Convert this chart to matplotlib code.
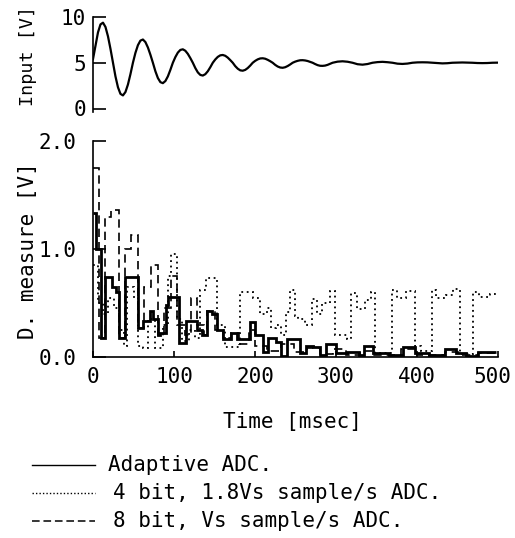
import numpy as np
import matplotlib
matplotlib.use("Agg")
import matplotlib.pyplot as plt
from matplotlib.lines import Line2D
from matplotlib.transforms import ScaledTranslation

plt.rcParams['font.family'] = ['DejaVu Sans Mono', 'DejaVu Sans']
FS = 15
TFS = 15

# ---------------- data ----------------
# input signal, sampled every ~3.08 ms (first 296 ms), then every ~6.16 ms
input_k = np.r_[np.arange(0, 97), np.arange(98, 163, 2)]
input_t = input_k * 3.081
input_v = [5.4, 6.86, 8.32, 9.19, 9.38, 8.91, 7.89, 6.52, 5.00, 3.51, 2.32, 1.60, 1.43, 1.80, 2.62, 3.75,
           5.00, 6.08, 6.92, 7.42, 7.54, 7.26, 6.67, 5.88, 5.00, 4.07, 3.33, 2.88, 2.77, 3.00, 3.51, 4.22,
           5.00, 5.62, 6.11, 6.40, 6.47, 6.31, 5.97, 5.51, 5.00, 4.42, 3.95, 3.67, 3.60, 3.75, 4.07, 4.51,
           5.00, 5.36, 5.64, 5.81, 5.85, 5.76, 5.56, 5.29, 5.00, 4.63, 4.35, 4.17, 4.13, 4.22, 4.42, 4.69,
           5.00, 5.21, 5.37, 5.47, 5.49, 5.44, 5.32, 5.17, 5.00, 4.77, 4.59, 4.48, 4.45, 4.51, 4.64, 4.81,
           5.00, 5.12, 5.21, 5.27, 5.28, 5.25, 5.19, 5.10, 5.00, 4.86, 4.74, 4.67, 4.66, 4.69, 4.77, 4.88,
           5.00,
           5.12, 5.16, 5.11, 5.00, 4.84, 4.79, 4.86, 5.00, 5.07, 5.10, 5.06, 5.00, 4.90, 4.87, 4.91, 5.00,
           5.04, 5.05, 5.04, 5.00, 4.95, 4.93, 4.95, 5.00, 5.02, 5.03, 5.02, 5.00, 4.97, 4.96, 4.97, 5.00,
           5.01]

# Adaptive ADC (solid): segment start times [ms] and levels [V]
adaptive_t = [0, 4, 10, 15, 23, 28, 32, 40, 56, 62, 70, 74, 80, 83, 90, 93, 106, 115, 128, 134,
              141, 147, 153, 161, 170, 178, 194, 200, 210, 216, 226, 232, 240, 255, 263, 272, 280,
              288, 300, 313, 329, 334, 346, 365, 383, 398, 415, 434, 448, 461, 475, 498]
adaptive_v = [1.33, 1.00, 0.18, 0.74, 0.65, 0.60, 0.18, 0.74, 0.27, 0.33, 0.43, 0.35, 0.20, 0.22,
              0.48, 0.56, 0.13, 0.33, 0.25, 0.20, 0.43, 0.40, 0.25, 0.17, 0.22, 0.17, 0.32, 0.20,
              0.05, 0.18, 0.14, 0.01, 0.17, 0.04, 0.10, 0.09, 0.02, 0.12, 0.04, 0.05, 0.02, 0.10,
              0.04, 0.02, 0.09, 0.04, 0.02, 0.07, 0.04, 0.01, 0.05]

# 4 bit ADC (dotted)
bit4_t = [0, 6, 12, 18, 26, 32, 38, 42, 50, 56, 62, 68, 76, 86, 92, 96, 104, 110, 118, 126, 132,
          140, 153, 163, 181, 197, 206, 215, 220, 226, 232, 238, 243, 249, 253, 262, 270, 277, 283,
          293, 299, 313, 319, 326, 336, 343, 348, 369, 375, 387, 397, 405, 418, 424, 436, 445, 453,
          469, 476, 490, 497]
bit4_v = [0.85, 0.50, 0.40, 0.55, 0.45, 0.25, 0.10, 0.65, 0.55, 0.10, 0.08, 0.35, 0.08, 0.30, 0.75,
          0.95, 0.35, 0.15, 0.25, 0.18, 0.62, 0.73, 0.30, 0.09, 0.60, 0.55, 0.40, 0.45, 0.27, 0.30,
          0.20, 0.42, 0.62, 0.38, 0.35, 0.30, 0.54, 0.40, 0.50, 0.61, 0.20, 0.17, 0.59, 0.44, 0.53,
          0.60, 0.04, 0.62, 0.55, 0.61, 0.10, 0.06, 0.62, 0.55, 0.57, 0.63, 0.03, 0.60, 0.56, 0.58]

# 8 bit ADC (dashed)
bit8_t = [0, 7, 15, 22.6, 32, 39, 47, 55.6, 63, 71, 80, 88, 96, 104, 113, 121, 129, 137, 141, 150,
          160, 170, 180, 192, 200, 215, 232, 248, 264, 280, 296, 312, 330, 346, 380, 400, 434, 450,
          475, 498]
bit8_v = [1.75, 0.18, 1.30, 1.36, 0.18, 1.00, 1.13, 0.27, 0.65, 0.85, 0.20, 0.45, 0.75, 0.30, 0.20,
          0.55, 0.30, 0.20, 0.43, 0.25, 0.18, 0.22, 0.12, 0.25, 0.10, 0.06, 0.12, 0.05, 0.08, 0.03,
          0.07, 0.02, 0.06, 0.02, 0.07, 0.02, 0.05, 0.02, 0.04]

labels = ["Adaptive ADC.", "4 bit, 1.8Vs sample/s ADC.", "8 bit, Vs sample/s ADC."]

# ---------------- figure ----------------
W, H = 515, 538
fig = plt.figure(figsize=(W / 100, H / 100), dpi=100)

def fx(px):
    return px / W

def fy(py):
    return 1 - py / H

x0, x1 = 93, 498
ax1 = fig.add_axes([fx(x0), fy(108.5), fx(x1) - fx(x0), fy(17) - fy(108.5)])
ax2 = fig.add_axes([fx(x0), fy(357), fx(x1) - fx(x0), fy(141) - fy(357)])

# top: input
ax1.plot(input_t, input_v, color='black', lw=1.6)
ax1.set_xlim(0, 500)
ax1.set_ylim(0, 10)
ax1.set_yticks([0, 5, 10])
ax1.set_yticklabels(['0', '5', '10'])
ax1.set_xticks([])
for s in ['top', 'right', 'bottom']:
    ax1.spines[s].set_visible(False)
ax1.spines['left'].set_linewidth(1.2)
ax1.spines['left'].set_bounds(-0.4, 10)
ax1.tick_params(axis='y', direction='in', length=9, width=1.2, labelsize=TFS, pad=5)
ax1.patch.set_alpha(0)

# bottom: D. measure
ax2.stairs(bit4_v, bit4_t, baseline=None, color='black', lw=1.3, linestyle=(0, (1, 2)))
ax2.stairs(bit8_v, bit8_t, baseline=None, color='black', lw=1.2, linestyle=(0, (5, 3)))
ax2.stairs(adaptive_v, adaptive_t, baseline=None, color='black', lw=2.0)
ax2.set_xlim(0, 500)
ax2.set_ylim(0, 2.0)
ax2.set_yticks([0.0, 1.0, 2.0])
ax2.set_yticklabels(['0.0', '1.0', '2.0'])
ax2.set_xticks([0, 100, 200, 300, 400, 500])
ax2.set_xticklabels(['0', '100', '200', '300', '400', '500'])
for s in ['top', 'right']:
    ax2.spines[s].set_visible(False)
for s in ['left', 'bottom']:
    ax2.spines[s].set_linewidth(1.2)
ax2.tick_params(axis='y', direction='in', length=9, width=1.2, labelsize=TFS, pad=12)
ax2.tick_params(axis='x', direction='in', length=4, width=1.2, labelsize=TFS, pad=7)
ax2.patch.set_alpha(0)
# keep the last x tick label inside the canvas
last = ax2.get_xticklabels()[-1]
last.set_transform(last.get_transform() + ScaledTranslation(-4 / 72, 0, fig.dpi_scale_trans))

# axis titles
fig.text(fx(28), fy(56), "Input [V]", rotation=90, ha='center', va='center', fontsize=13.2)
fig.text(fx(28), fy(251), "D. measure [V]", rotation=90, ha='center', va='center', fontsize=FS)
fig.text(fx(292), fy(422), "Time [msec]", ha='center', va='center', fontsize=FS)

# legend (drawn by hand to reproduce its layout)
rows = [465, 493, 521]
styles = [dict(lw=1.0, linestyle='-'), dict(lw=1.0, linestyle=(0, (1, 1.5))),
          dict(lw=1.1, linestyle=(0, (5, 2.5)))]
text_x = [108, 113, 113]
for r, st, lab, tx in zip(rows, styles, labels, text_x):
    fig.add_artist(Line2D([fx(32), fx(95)], [fy(r), fy(r)], transform=fig.transFigure,
                          color='black', **st))
    fig.text(fx(tx), fy(r), lab, ha='left', va='center', fontsize=FS)

fig.savefig("out.png", dpi=100)
